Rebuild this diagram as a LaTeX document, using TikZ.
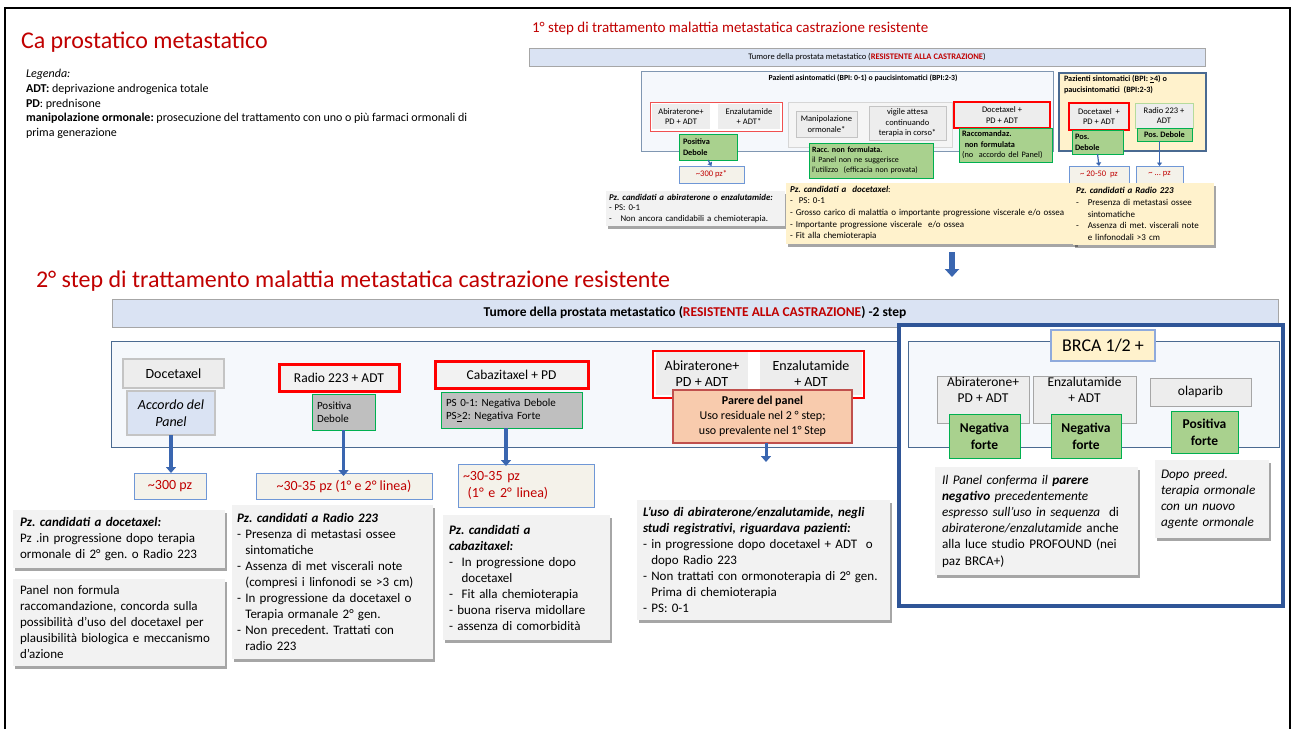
\documentclass[tikz,border=0pt]{standalone}
\usepackage{fontspec}
\setmainfont{Carlito}
\usetikzlibrary{shadows,arrows.meta,calc}

\newcommand\fsz[2]{\fontsize{#1}{#2}\selectfont}

\definecolor{titred}{HTML}{C00000}
\definecolor{bannerblue}{HTML}{DAE3F3}
\definecolor{bannerline}{HTML}{A6A6A6}
\definecolor{boxgray}{HTML}{EDEDED}
\definecolor{boxline}{HTML}{C4C4C4}
\definecolor{labgreen}{HTML}{A9D18E}
\definecolor{labline}{HTML}{00B050}
\definecolor{labgray}{HTML}{BFBFBF}
\definecolor{pzfill}{HTML}{F4F2EA}
\definecolor{pzline}{HTML}{6F97D6}
\definecolor{notegray}{HTML}{F2F2F2}
\definecolor{noteyellow}{HTML}{FFF2CC}
\definecolor{salmon}{HTML}{F8CBAD}
\definecolor{salmonline}{HTML}{C0504D}
\definecolor{panelfill}{HTML}{F5F8FC}
\definecolor{panelline}{HTML}{4A6A91}
\definecolor{brcablue}{HTML}{2F5597}
\definecolor{arrowblue}{HTML}{3A66B0}
\definecolor{brightred}{HTML}{FF0000}
\definecolor{softred}{HTML}{F05050}
\definecolor{lightgreenline}{HTML}{B5DB9C}
\definecolor{brcaline}{HTML}{8FAADC}

\tikzset{
  every node/.style={inner sep=0pt, outer sep=0pt},
  banner/.style={draw=bannerline, fill=bannerblue, line width=0.8pt},
  panel/.style={draw=panelline, fill=panelfill, line width=1pt},
  graybox/.style={draw=boxline, fill=boxgray, line width=0.8pt, align=center},
  plaingray/.style={fill=boxgray, align=center},
  redframe/.style={draw=brightred, line width=3pt, fill=notegray, align=center},
  greenlab/.style={fill=labgreen, draw=labline, line width=1pt},
  graylab/.style={fill=labgray, draw=labline, line width=1pt},
  pzbox/.style={fill=pzfill, draw=pzline, line width=1pt, text=titred},
  note/.style={fill=notegray, drop shadow={shadow xshift=1.5pt, shadow yshift=-3pt, fill=black, opacity=0.35}},
  ynote/.style={fill=noteyellow, drop shadow={shadow xshift=1.5pt, shadow yshift=-3pt, fill=black, opacity=0.35}},
  thickarrow/.style={draw=arrowblue, line width=3.5pt, -{Triangle[width=10pt,length=6pt]}},
  thinarrow/.style={draw=arrowblue, line width=1.2pt, -{Triangle[width=5pt,length=3.5pt]}},
  bigarrow/.style={draw=arrowblue, line width=6pt, -{Triangle[width=14pt,length=8pt]}},
}

\begin{document}
\frenchspacing
\begin{tikzpicture}[x=1pt,y=-1pt]
\useasboundingbox (0,0) rectangle (1293,729);

% slide border
\draw[line width=1.5pt] (5,729) -- (5,8) -- (1290,8) -- (1290,729);

% ---------- heading and legend ----------
\node[anchor=west, text=titred, font=\fsz{24}{28}] (mainTitle) at (21,42) {Ca prostatico metastatico};
\node[anchor=north west, align=left, font=\fsz{12}{14.7}] (legend) at (26,69.5)
  {\textit{Legenda:}\\
   \textbf{ADT:} deprivazione androgenica totale\\
   \textbf{PD}: prednisone\\
   \textbf{manipolazione ormonale:} prosecuzione del trattamento con uno o più farmaci ormonali di\\
   prima generazione};

% ---------- first step ----------
\node[anchor=west, text=titred, font=\fsz{15}{18}] (stepOneTitle) at (532,28)
  {1° step di trattamento malattia metastatica castrazione resistente};

\node[banner, minimum width=676, minimum height=18, font=\fsz{8.5}{10}] (bannerOne) at (867,57)
  {Tumore della prostata metastatico (\textcolor{titred}{\textbf{RESISTENTE ALLA CASTRAZIONE}})};

% asymptomatic patients
\node[draw=panelline!70, fill=panelfill, line width=1pt, minimum width=412, minimum height=80] (asint) at (847,111) {};
\node[font=\bfseries\fsz{7.8}{10}] (asintTitle) at (863,78)
  {Pazienti asintomatici (BPI: 0-1) o paucisintomatici (BPI:2-3)};

\node[draw=softred, line width=1pt, fill=white, minimum width=132, minimum height=29] (abiEnzOne) at (716,116.5) {};
\node[plaingray, minimum width=58, minimum height=25, font=\fsz{8.5}{10.5}] (abiOne) at (681,116.5) {Abiraterone+\\PD + ADT};
\node[plaingray, minimum width=62, minimum height=25, font=\fsz{8.5}{10.5}] (enzOne) at (749,116.5) {Enzalutamide\\+ ADT*};

\node[draw=boxline!70, fill=white!96!black, line width=1pt, minimum width=164, minimum height=45] (attesa) at (870,124.5) {};
\node[graybox, minimum width=61, minimum height=26, font=\fsz{8.5}{10.5}] (manip) at (826.5,124) {Manipolazione\\ormonale*};
\node[graybox, minimum width=77, minimum height=34, font=\fsz{8.5}{10.5}] (vigile) at (907.5,123) {vigile attesa\\continuando\\terapia in corso*};

\node[graybox, draw=brightred, line width=1.5pt, minimum width=96, minimum height=26, font=\fsz{8.5}{10.5}] (docOne) at (1002,115) {Docetaxel +\\PD + ADT};
\node[greenlab, minimum width=93, minimum height=34, text width=87, inner xsep=3pt, align=left, font=\fsz{8.3}{10.5}] (raccDoc) at (1005.5,145)
  {\textbf{Raccomandaz.}\\\textbf{\ non formulata}\\(no\ \ accordo del Panel)};

\node[greenlab, minimum width=58, minimum height=26, text width=50, inner xsep=4pt, align=left, font=\bfseries\fsz{8.3}{11}] (posDebOne) at (708,147) {Positiva\\Debole};
\node[greenlab, minimum width=124, minimum height=35, text width=118, inner xsep=3pt, align=left, font=\fsz{8}{10.3}] (raccManip) at (871,160.5)
  {\textbf{Racc. non formulata.}\\il Panel non ne suggerisce\\l'utilizzo\ \ (efficacia non provata)};
\node[pzbox, minimum width=65, minimum height=17, font=\fsz{8.5}{10}] (pzOne) at (711.5,174.5) {\textasciitilde300 pz*};

% symptomatic patients
\node[draw=panelline, fill=noteyellow, line width=1.2pt, minimum width=147, minimum height=78] (sint) at (1132.5,112) {};
\node[anchor=north west, align=left, font=\bfseries\fsz{8.2}{11}] (sintTitle) at (1064,75)
  {Pazienti sintomatici (BPI: \underline{>}4) o\\paucisintomatici\ \ (BPI:2-3)};
\node[graybox, draw=brightred, line width=1.5pt, minimum width=60, minimum height=27, font=\fsz{8.5}{10.5}] (docTwo) at (1099,116.5) {Docetaxel\ \ +\\PD + ADT};
\node[greenlab, minimum width=51, minimum height=24, text width=45, inner xsep=3pt, align=left, font=\bfseries\fsz{8.3}{11}] (posDebTwo) at (1097.5,142) {Pos.\\Debole};
\node[graybox, draw=lightgreenline, line width=1pt, minimum width=58, minimum height=25, font=\fsz{8.5}{10.5}] (radioOne) at (1164,115.5) {Radio 223 +\\ADT};
\node[greenlab, minimum width=55, minimum height=13, font=\bfseries\fsz{8.3}{10}] (posDebThree) at (1164.5,134.5) {Pos. Debole};
\node[pzbox, minimum width=60, minimum height=17, font=\fsz{8.5}{10}] (pzTwo) at (1099,174.5) {\textasciitilde{} 20-50\ \ pz};
\node[pzbox, minimum width=47, minimum height=17, font=\fsz{8.5}{10}] (pzThree) at (1159.5,174.5) {\textasciitilde{} ... pz};

\draw[thinarrow] (posDebOne.south) -- (pzOne.north);
\draw[thinarrow] (posDebTwo.south) -- (pzTwo.north);
\draw[thinarrow] (posDebThree.south -| pzThree.north) -- (pzThree.north);

% candidate notes, first step
\node[note, minimum width=179, minimum height=35, text width=173, inner xsep=3pt, align=left, font=\fsz{8.8}{10.7}] (noteAbiOne) at (695.5,208.5)
  {\textbf{\textit{Pz. candidati a abiraterone o enzalutamide:}}\\- PS: 0-1\\-\quad Non ancora candidabili a chemioterapia.};
\node[ynote, minimum width=290, minimum height=61, text width=282, inner xsep=4pt, align=left, font=\fsz{9}{11.6}] (noteDocOne) at (931,213)
  {\textbf{\textit{Pz. candidati a\ \ docetaxel}}:\\-\ \ PS: 0-1\\- Grosso carico di malattia o importante progressione viscerale e/o ossea\\- Importante progressione viscerale\ \ e/o ossea\\- Fit alla chemioterapia};
\node[ynote, minimum width=141, minimum height=62, text width=135, inner xsep=3pt, align=left, font=\fsz{9}{11.6}] (noteRadioOne) at (1143.5,214)
  {\textbf{\textit{Pz. candidati a Radio 223}}\\-\quad Presenza di metastasi ossee\\\phantom{-\quad }sintomatiche\\-\quad Assenza di met. viscerali note\\\phantom{-\quad }e linfonodali >3 cm};

% passage to second step
\coordinate (stepTop) at (952,252);
\coordinate (stepBottom) at (952,277);
\draw[bigarrow] (stepTop) -- (stepBottom);

% ---------- second step ----------
\node[anchor=west, text=titred, font=\fsz{24}{28}] (stepTwoTitle) at (36,281)
  {2° step di trattamento malattia metastatica castrazione resistente};

\node[banner, minimum width=1166, minimum height=28, font=\bfseries\fsz{13.5}{16}] (bannerTwo) at (695,313)
  {Tumore della prostata metastatico (\textcolor{titred}{RESISTENTE ALLA CASTRAZIONE}) -2 step};

\node[panel, minimum width=1168, minimum height=106] (mainPanel) at (695,394) {};

\node[graybox, line width=1.5pt, minimum width=101, minimum height=29, font=\fsz{14}{16}] (docetaxel) at (173.5,373.5) {Docetaxel};
\node[graybox, fill=bannerblue, line width=1.5pt, minimum width=88, minimum height=44, font=\itshape\fsz{14}{17}] (accordo) at (171,413) {Accordo del\\Panel};
\node[pzbox, minimum width=72, minimum height=26, font=\fsz{14}{16}] (pzDoc) at (170,486) {\textasciitilde300 pz};

\node[redframe, minimum width=120, minimum height=27, font=\fsz{13.5}{16}] (radioTwo) at (339,377.5) {Radio 223 + ADT};
\node[graylab, minimum width=63, minimum height=36, text width=53, inner xsep=5pt, align=left, font=\fsz{11}{13}] (posDebRadio) at (343.5,412) {Positiva\\Debole};
\node[pzbox, minimum width=176, minimum height=26, font=\fsz{14}{16}] (pzRadio) at (344,486) {\textasciitilde30-35 pz (1° e 2° linea)};

\node[redframe, minimum width=153, minimum height=27, font=\fsz{13.5}{16}] (cabaz) at (511.5,374.5) {Cabazitaxel + PD};
\node[graylab, minimum width=141, minimum height=36, text width=131, inner xsep=5pt, align=left, font=\fsz{11}{13}] (psCabaz) at (511.5,410)
  {PS 0-1: Negativa Debole\\PS\underline{>}2: Negativa Forte};
\node[pzbox, minimum width=136, minimum height=43, text width=126, inner xsep=5pt, align=left, font=\fsz{14}{17}] (pzCabaz) at (526,485.5)
  {\textasciitilde30-35 pz\\\ (1° e 2° linea)};

\node[draw=brightred, line width=1.2pt, fill=white, minimum width=211, minimum height=47] (abiEnzTwo) at (758.5,374.5) {};
\node[plaingray, minimum width=92, minimum height=43, font=\fsz{14}{16}] (abiTwo) at (702,373.5) {Abiraterone+\\PD + ADT};
\node[plaingray, minimum width=102, minimum height=43, font=\fsz{14}{16}] (enzTwo) at (811,373.5) {Enzalutamide\\+ ADT};
\node[fill=salmon, draw=salmonline, line width=1.2pt, minimum width=179, minimum height=53, align=center, font=\fsz{12}{15}] (parere) at (762.5,416.5)
  {\textbf{Parere del panel}\\Uso residuale nel 2 ° step;\\uso prevalente nel 1° Step};

\draw[thickarrow] (accordo.south) -- (accordo.south |- pzDoc.north);
\draw[thickarrow] (posDebRadio.south) -- ([yshift=-3pt]posDebRadio.south |- pzRadio.north);
\draw[thickarrow] (psCabaz.south -| 506,0) -- ([yshift=-2pt]506,0 |- pzCabaz.north);
\coordinate (parereEnd) at (766,462);
\draw[thickarrow, line width=3pt] (parereEnd |- parere.south) -- (parereEnd);

% BRCA 1/2 positive patients
\node[draw=brcablue, line width=4.5pt, fill=white, minimum width=384, minimum height=281] (brcaFrame) at (1091,465.5) {};
\node[panel, minimum width=371, minimum height=106] (brcaPanel) at (1093.5,394) {};
\node[fill=noteyellow, draw=brcaline, line width=1.5pt, minimum width=104, minimum height=31, font=\fsz{18}{20}] (brcaLabel) at (1103,345.5) {BRCA 1/2 +};

\node[graybox, draw=bannerline, line width=1pt, minimum width=92, minimum height=44, font=\fsz{13.5}{16}] (abiBrca) at (983,400) {Abiraterone+\\PD + ADT\\[5pt]};
\node[graybox, draw=bannerline, line width=1pt, minimum width=103, minimum height=44, font=\fsz{13.5}{16}] (enzBrca) at (1084.5,400) {Enzalutamide\\+ ADT\\[5pt]};
\node[graybox, draw=bannerline, line width=1pt, minimum width=101, minimum height=28, font=\fsz{13.5}{16}] (olaparib) at (1200.5,392) {olaparib};
\node[greenlab, minimum width=71, minimum height=44, align=center, font=\bfseries\fsz{13.5}{17}] (negAbi) at (984.5,436) {Negativa\\forte};
\node[greenlab, minimum width=70, minimum height=44, align=center, font=\bfseries\fsz{13.5}{17}] (negEnz) at (1086,436) {Negativa\\forte};
\node[greenlab, minimum width=67, minimum height=42, align=center, font=\bfseries\fsz{13.5}{17}] (posOla) at (1204.5,432) {Positiva\\forte};

\node[note, minimum width=203, minimum height=108, text width=189, inner xsep=7pt, align=left, font=\fsz{13.2}{16.2}] (panelNote) at (1036.5,521)
  {\textit{Il Panel conferma il \textbf{parere}}\\
   \textit{\textbf{negativo} precedentemente}\\
   \textit{espresso sull'uso in sequenza}\ \ di\\
   \textit{abiraterone/enzalutamide} anche\\
   alla luce studio PROFOUND (nei\\
   paz BRCA+)};
\node[note, minimum width=114, minimum height=78, text width=102, inner xsep=6pt, align=left, font=\itshape\fsz{13.2}{16.2}] (olaNote) at (1212,499)
  {Dopo preed.\\terapia ormonale\\con un nuovo\\agente ormonale};

% candidate notes, second step
\node[note, minimum width=212, minimum height=58, text width=198, inner xsep=7pt, align=left, font=\fsz{13}{16}] (noteDoc) at (119,539)
  {\textbf{\textit{Pz. candidati a docetaxel:}}\\Pz .in progressione dopo terapia\\ormonale di 2° gen. o Radio 223};
\node[note, minimum width=212, minimum height=87, text width=198, inner xsep=7pt, align=left, font=\fsz{13}{16}] (notePanel) at (119,622)
  {Panel non formula\\raccomandazione, concorda sulla\\possibilità d'uso del docetaxel per\\plausibilità biologica e meccanismo\\d'azione};
\node[note, minimum width=201, minimum height=154, text width=191, inner xsep=5pt, align=left, font=\fsz{13}{16}] (noteRadio) at (332.5,582)
  {\textbf{\textit{Pz. candidati a Radio 223}}\\
   - Presenza di metastasi ossee\\\phantom{- }sintomatiche\\
   - Assenza di met viscerali note\\\phantom{- }(compresi i linfonodi se >3 cm)\\
   - In progressione da docetaxel o\\\phantom{- }Terapia ormanale 2° gen.\\
   - Non precedent. Trattati con\\\phantom{- }radio 223};
\node[note, minimum width=167, minimum height=125, text width=155, inner xsep=6pt, align=left, font=\fsz{13}{16}] (noteCabaz) at (526.5,577.5)
  {\textbf{\textit{Pz. candidati a}}\\\textbf{\textit{cabazitaxel:}}\\
   -\ \ In progressione dopo\\\phantom{-\ \ }docetaxel\\
   -\ \ Fit alla chemioterapia\\
   - buona riserva midollare\\
   - assenza di comorbidità};
\node[note, minimum width=253, minimum height=120, text width=241, inner xsep=6pt, align=left, font=\fsz{13}{16}] (noteUso) at (763.5,560)
  {\textbf{\textit{L'uso di abiraterone/enzalutamide, negli}}\\
   \textbf{\textit{studi registrativi, riguardava pazienti:}}\\
   - in progressione dopo docetaxel + ADT\ \ o\\\phantom{- }dopo Radio 223\\
   - Non trattati con ormonoterapia di 2° gen.\\\phantom{- }Prima di chemioterapia\\
   - PS: 0-1};

\end{tikzpicture}
\end{document}
